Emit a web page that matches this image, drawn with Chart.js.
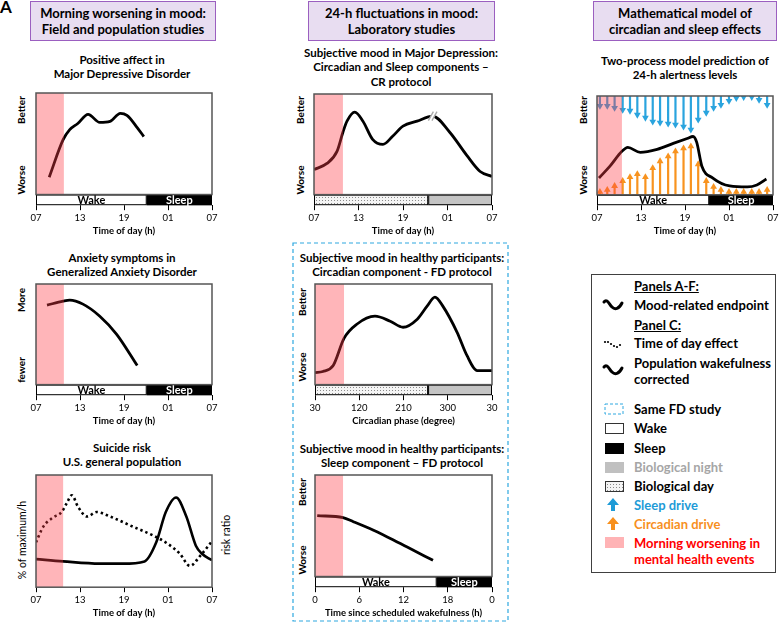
<!DOCTYPE html>
<html>
<head>
<meta charset="utf-8">
<script src="https://cdn.jsdelivr.net/npm/chart.js@4.4.0/dist/chart.umd.min.js"></script>
<style>
  body { margin: 0; width: 780px; height: 627px; position: relative; overflow: hidden; background: #fff; font-family: Lato, sans-serif; color: #000; }
  .hdr { position: absolute; top: 1px; height: 40px; box-sizing: border-box; background: #e8ddf1; border: 1.5px solid #9b5fc0;
         display: flex; align-items: center; justify-content: center; text-align: center; font-weight: bold; font-size: 13px; line-height: 16px; }
  .ttl { position: absolute; transform: translateX(-50%); text-align: center; white-space: nowrap; font-weight: bold; font-size: 11.5px; line-height: 14.3px; }
  .yl { position: absolute; white-space: nowrap; font-weight: bold; font-size: 10px; transform: translate(-50%, -50%) rotate(-90deg); }
  .yl.thin { font-weight: normal; font-size: 10.5px; }
  .lg { position: absolute; left: 634px; white-space: nowrap; font-weight: bold; font-size: 13px; line-height: 16px; }
  .u { text-decoration: underline; }
  canvas { position: absolute; }
  svg { position: absolute; left: 0; top: 0; }
</style>
</head>
<body>
<div style="position:absolute;left:0;top:-4px;font-weight:bold;font-size:17px;">A</div>

<div class="hdr" style="left:30px;width:186px;">Morning worsening in mood:<br>Field and population studies</div>
<div class="hdr" style="left:308px;width:187px;">24-h fluctuations in mood:<br>Laboratory studies</div>
<div class="hdr" style="left:593px;width:184px;">Mathematical model of<br>circadian and sleep effects</div>

<div class="ttl" style="left:122px;top:53px;">Positive affect in<br>Major Depressive Disorder</div>
<div class="ttl" style="left:122px;top:251px;">Anxiety symptoms in<br>Generalized Anxiety Disorder</div>
<div class="ttl" style="left:122px;top:441px;">Suicide risk<br>U.S. general population</div>
<div class="ttl" style="left:401px;top:46px;">Subjective mood in Major Depression:<br>Circadian and Sleep components –<br>CR protocol</div>
<div class="ttl" style="left:402px;top:251px;">Subjective mood in healthy participants:<br>Circadian component - FD protocol</div>
<div class="ttl" style="left:402px;top:442px;">Subjective mood in healthy participants:<br>Sleep component – FD protocol</div>
<div class="ttl" style="left:685px;top:54px;">Two-process model prediction of<br>24-h alertness levels</div>

<div class="yl" style="left:21px;top:110px;">Better</div>
<div class="yl" style="left:21px;top:180px;">Worse</div>
<div class="yl" style="left:21px;top:300px;">More</div>
<div class="yl" style="left:21px;top:370px;">fewer</div>
<div class="yl thin" style="left:22px;top:540px;">% of maximum/h</div>
<div class="yl thin" style="left:226px;top:535px;">risk ratio</div>
<div class="yl" style="left:300px;top:110px;">Better</div>
<div class="yl" style="left:300px;top:180px;">Worse</div>
<div class="yl" style="left:302px;top:302px;">Better</div>
<div class="yl" style="left:302px;top:367px;">Worse</div>
<div class="yl" style="left:302px;top:492px;">Better</div>
<div class="yl" style="left:302px;top:560px;">Worse</div>
<div class="yl" style="left:583px;top:110px;">Better</div>
<div class="yl" style="left:583px;top:180px;">Worse</div>

<!-- legend -->
<div style="position:absolute;left:591px;top:274px;width:185px;height:299px;box-sizing:border-box;border:1px solid #404040;"></div>
<svg width="780" height="627">
  <defs>
    <pattern id="dots" width="3" height="3" patternUnits="userSpaceOnUse">
      <rect width="3" height="3" fill="#f4f4f4"/><rect x="1" y="1" width="1" height="1" fill="#8a8a8a"/>
    </pattern>
  </defs>
  <rect x="293" y="243" width="215" height="378" fill="none" stroke="#2ea8e0" stroke-width="1.2" stroke-dasharray="4 3"/>
  <path d="M604,302 C607,298 609,304 612,307 C615,310 619,309 622,303" fill="none" stroke="#000" stroke-width="3" stroke-linecap="round"/>
  <g fill="#000"><circle cx="605" cy="342" r="1.1"/><circle cx="608" cy="342" r="1.1"/><circle cx="611" cy="344" r="1.1"/>
    <circle cx="614" cy="346" r="1.1"/><circle cx="617" cy="347" r="1.1"/><circle cx="620" cy="345" r="1.1"/></g>
  <path d="M604,367 C607,363 609,369 612,372 C615,375 619,374 622,368" fill="none" stroke="#000" stroke-width="3" stroke-linecap="round"/>
  <rect x="605" y="404" width="18" height="10" fill="none" stroke="#2ea8e0" stroke-width="1" stroke-dasharray="3 2"/>
  <rect x="605.5" y="423.5" width="18" height="10" fill="#fff" stroke="#333" stroke-width="1"/>
  <rect x="605" y="443" width="19" height="11" fill="#000"/>
  <rect x="605" y="462" width="19" height="11" fill="#c0c0c0"/>
  <rect x="605.5" y="481.5" width="18" height="10" fill="url(#dots)" stroke="#333" stroke-width="1"/>
  <path d="M613,498 L607,505 L611,505 L611,511 L615,511 L615,505 L619,505 Z" fill="#1e9bd7"/>
  <path d="M613,517 L607,524 L611,524 L611,530 L615,530 L615,524 L619,524 Z" fill="#f7901e"/>
  <rect x="605" y="537" width="19" height="11" fill="#ffb3b5"/>
</svg>
<div class="lg u" style="top:278px;">Panels A-F:</div>
<div class="lg" style="top:297px;">Mood-related endpoint</div>
<div class="lg u" style="top:317px;">Panel C:</div>
<div class="lg" style="top:335px;">Time of day effect</div>
<div class="lg" style="top:355px;">Population wakefulness<br>corrected</div>
<div class="lg" style="top:401px;">Same FD study</div>
<div class="lg" style="top:420px;">Wake</div>
<div class="lg" style="top:440px;">Sleep</div>
<div class="lg" style="top:459px;color:#a6a6a6;">Biological night</div>
<div class="lg" style="top:478px;">Biological day</div>
<div class="lg" style="top:497px;color:#1e9bd7;">Sleep drive</div>
<div class="lg" style="top:516px;color:#f7901e;">Circadian drive</div>
<div class="lg" style="top:535px;color:#ff0000;">Morning worsening in<br>mental health events</div>

<canvas id="cA" width="204" height="147" style="left:22px;top:90px;"></canvas>
<canvas id="cB" width="204" height="146" style="left:22px;top:281px;"></canvas>
<canvas id="cC" width="204" height="147" style="left:22px;top:472px;"></canvas>
<canvas id="cD" width="206" height="146" style="left:300px;top:91px;"></canvas>
<canvas id="cE" width="205" height="146" style="left:301px;top:281px;"></canvas>
<canvas id="cF" width="205" height="147" style="left:301px;top:472px;"></canvas>
<canvas id="cG" width="204" height="145" style="left:583px;top:92px;"></canvas>

<script>
// tick labels
const clockTicks = ['07', '13', '19', '01', '07'];
const phaseTicks = ['30', '120', '210', '300', '30'];
const wakeTicks = ['0', '6', '12', '18', '0'];

// x values are hours after 07:00 (or circadian degrees in E), y is 0 (worse) .. 100 (better)
// A: positive affect in MDD
const affectHours = [1.8, 3.7, 4.6, 5.7, 7.1, 8.7, 10.1, 11.5, 12.4, 13.8, 14.7];
const affectLevel = [17, 54, 64, 70, 79, 71, 72, 80, 78, 66, 57];
// B: anxiety in GAD
const anxietyHours = [1.5, 3.7, 4.6, 6.4, 8.7, 11.0, 13.8];
const anxietyLevel = [79, 83, 84, 80, 68, 50, 19];
// C: suicide risk
const suicideHours = [0, 3.7, 8.7, 11.8, 14.8, 16.4, 17.7, 19.1, 20.5, 21.8, 22.6, 24];
const suicideCorrected = [25, 23, 21, 21, 23, 40, 67, 80, 63, 37, 30, 24];
const todHours = [0, 1.0, 2.3, 3.5, 4.2, 4.9, 5.7, 6.95, 8.3, 10.1, 13.2, 16.0, 17.9, 19.6, 21.0, 22.4, 24];
const todRisk = [40, 54, 62, 67, 75, 82, 72, 63, 67, 63, 54, 46, 39, 30, 19, 28, 41];
// D: MDD, constant routine
const crHours = [0, 1.75, 3.1, 3.9, 4.45, 5.5, 6.6, 7.9, 9.3, 10.6, 12.0, 13.9, 16.0, 18.3, 20.6, 22.4, 24];
const crMood = [25, 31, 43, 62, 73, 82, 73, 55, 50, 58, 68, 73, 78, 62, 39, 23, 18];
const crBreak = [16.0, 78];
// E: healthy, circadian component
const phaseDeg = [0, 16, 37, 59, 85, 122, 153, 179, 208, 228, 244, 260, 289, 309, 330, 360];
const phaseMood = [12, 13, 19, 46, 60, 68, 63, 57, 65, 78, 87, 78, 52, 29, 14, 14];
// F: healthy, sleep component
const fdHours = [0.3, 3.8, 5.2, 7.5, 9.8, 12.5, 16.0];
const fdMood = [60, 58, 54, 47, 39, 29, 16];
// G: two-process model
const alertHours = [0.27, 1.77, 3.4, 4.2, 5.9, 8.2, 10.4, 12.3, 13.1, 13.6, 14.3, 15.8, 18.1, 20.5, 21.8, 23.1];
const alertLevel = [17, 29, 44, 48, 43, 46, 52, 57, 59, 53, 29, 17, 9, 8, 10, 16];
const arrowHours = [0.4, 1.4, 2.4, 3.5, 4.5, 5.5, 6.6, 7.6, 8.6, 9.7, 10.7, 11.8, 12.8, 13.8, 14.9, 15.9, 16.9, 18.0, 19.0, 20.0, 21.1, 22.1, 23.2];
const sleepDrive = [90, 90, 88, 86, 85, 81, 78, 74, 73, 72, 71, 69, 66, 76, 83, 88, 91, 95, 98, 99, 99, 96, 91];
const circadianDrive = [3, 5, 9, 14, 18, 21, 18, 27, 34, 39, 44, 47, 49, 31, 14, 8, 5, 3, 3, 3, 3, 3, 5];

// morning worsening band end, per panel
const morningEnd = { A: 3.8, B: 3.8, C: 3.7, D: 3.9, E: 59, F: 3.8, G: 3.4 };

// state bars under the plots: [kind, from, to]
const barA = [['Wake', 0, 15.1], ['Sleep', 15.1, 24]];
const barB = [['Wake', 0, 15.1], ['Sleep', 15.1, 24]];
const barD = [['day', 0, 15.4], ['night', 15.4, 24]];
const barE = [['day', 0, 230], ['night', 230, 360]];
const barF = [['Wake', 0, 16.5], ['Sleep', 16.5, 24]];
const barG = [['Wake', 0, 15.3], ['Sleep', 15.3, 24]];

Chart.defaults.font.family = 'Lato';
Chart.defaults.color = '#000';

const dotCanvas = document.createElement('canvas');
dotCanvas.width = 3; dotCanvas.height = 3;
const dctx = dotCanvas.getContext('2d');
dctx.fillStyle = '#f4f4f4'; dctx.fillRect(0, 0, 3, 3);
dctx.fillStyle = '#8a8a8a'; dctx.fillRect(1, 1, 1, 1);

function makeDecor(morning, bar, breakAt) {
  return {
    id: 'decor',
    beforeDatasetsDraw(chart) {
      const { ctx, chartArea: a, scales: { x, y } } = chart;
      if (!bar) return;
      const y0 = y.getPixelForValue(0);
      ctx.save();
      bar.forEach(([kind, from, to]) => {
        const x1 = x.getPixelForValue(from), x2 = x.getPixelForValue(to);
        if (kind === 'Sleep') ctx.fillStyle = '#000';
        else if (kind === 'night') ctx.fillStyle = '#c4c4c4';
        else if (kind === 'day') ctx.fillStyle = ctx.createPattern(dotCanvas, 'repeat');
        else ctx.fillStyle = '#fff';
        ctx.fillRect(x1, y0, x2 - x1, a.bottom - y0);
        ctx.strokeStyle = '#000';
        ctx.lineWidth = 1;
        ctx.strokeRect(x1 + 0.5, y0 + 0.5, x2 - x1 - 1, a.bottom - y0 - 1);
        if (kind === 'Wake' || kind === 'Sleep') {
          ctx.fillStyle = kind === 'Sleep' ? '#fff' : '#000';
          ctx.font = 'bold 11px Lato';
          ctx.textAlign = 'center';
          ctx.textBaseline = 'middle';
          ctx.fillText(kind, (x1 + x2) / 2, (y0 + a.bottom) / 2 + 0.5);
        }
      });
      ctx.restore();
    },
    afterDatasetsDraw(chart) {
      const { ctx, chartArea: a, scales: { x, y } } = chart;
      const y0 = y.getPixelForValue(0);
      ctx.save();
      if (breakAt) {
        const bx = x.getPixelForValue(breakAt[0]), by = y.getPixelForValue(breakAt[1]);
        ctx.strokeStyle = '#fff';
        ctx.lineWidth = 4;
        ctx.beginPath(); ctx.moveTo(bx - 2, by + 4); ctx.lineTo(bx + 2, by - 4); ctx.stroke();
        ctx.strokeStyle = '#a8a8a8';
        ctx.lineWidth = 1.3;
        [-1.8, 1.8].forEach(d => {
          ctx.beginPath(); ctx.moveTo(bx + d - 2.5, by + 4.5); ctx.lineTo(bx + d + 2.5, by - 4.5); ctx.stroke();
        });
      }
      const xm = x.getPixelForValue(morning);
      ctx.fillStyle = 'rgba(255, 60, 70, 0.38)';
      ctx.fillRect(a.left, a.top, xm - a.left, y0 - a.top);
      ctx.strokeStyle = '#555';
      ctx.lineWidth = 1.5;
      ctx.strokeRect(a.left, a.top, a.right - a.left, y0 - a.top);
      ctx.restore();
    }
  };
}

function curve(xs, ys, extra) {
  return Object.assign({
    data: xs.map((v, i) => ({ x: v, y: ys[i] })),
    borderColor: '#000',
    borderWidth: 2.8,
    pointRadius: 0,
    cubicInterpolationMode: 'monotone',
    fill: false
  }, extra || {});
}

function panel(id, cfg) {
  const step = cfg.xMax / 4;
  return new Chart(document.getElementById(id), {
    type: 'line',
    data: { datasets: cfg.datasets },
    options: {
      responsive: false,
      animation: false,
      events: [],
      layout: { padding: { left: 14, right: 14, top: 3, bottom: 0 } },
      plugins: { legend: { display: false }, tooltip: { enabled: false } },
      scales: {
        x: {
          type: 'linear', min: 0, max: cfg.xMax,
          border: { display: false },
          grid: { drawOnChartArea: false, drawTicks: true, tickLength: 5, color: '#000' },
          ticks: {
            stepSize: step, autoSkip: false, maxRotation: 0, padding: 2,
            font: { size: 9.5 },
            callback: v => cfg.tickLabels[Math.round(v / step)]
          },
          title: { display: true, text: cfg.xTitle, padding: 0, font: { size: 9.5, weight: 'bold' } }
        },
        y: { display: false, min: cfg.bar ? -10.5 : 0, max: 100 }
      }
    },
    plugins: [makeDecor(cfg.morning, cfg.bar, cfg.breakAt)]
  });
}

panel('cA', { xMax: 24, tickLabels: clockTicks, xTitle: 'Time of day (h)', morning: morningEnd.A, bar: barA,
  datasets: [curve(affectHours, affectLevel)] });

panel('cB', { xMax: 24, tickLabels: clockTicks, xTitle: 'Time of day (h)', morning: morningEnd.B, bar: barB,
  datasets: [curve(anxietyHours, anxietyLevel)] });

panel('cC', { xMax: 24, tickLabels: clockTicks, xTitle: 'Time of day (h)', morning: morningEnd.C, bar: null,
  datasets: [
    curve(suicideHours, suicideCorrected, { borderWidth: 2.6 }),
    curve(todHours, todRisk, { borderWidth: 2.6, borderDash: [2.4, 3], borderCapStyle: 'butt' })
  ] });

panel('cD', { xMax: 24, tickLabels: clockTicks, xTitle: 'Time of day (h)', morning: morningEnd.D, bar: barD, breakAt: crBreak,
  datasets: [curve(crHours, crMood)] });

panel('cE', { xMax: 360, tickLabels: phaseTicks, xTitle: 'Circadian phase (degree)', morning: morningEnd.E, bar: barE,
  datasets: [curve(phaseDeg, phaseMood)] });

panel('cF', { xMax: 24, tickLabels: wakeTicks, xTitle: 'Time since scheduled wakefulness (h)', morning: morningEnd.F, bar: barF,
  datasets: [curve(fdHours, fdMood)] });

// arrows for the two-process model
const blueShafts = [], orangeShafts = [];
arrowHours.forEach((h, i) => {
  blueShafts.push({ x: h, y: 100 }, { x: h, y: sleepDrive[i] }, { x: h, y: null });
  orangeShafts.push({ x: h, y: 0 }, { x: h, y: circadianDrive[i] }, { x: h, y: null });
});
const arrowHead = (vals, color, rot) => ({
  data: arrowHours.map((h, i) => ({ x: h, y: vals[i] })),
  showLine: false,
  pointStyle: 'triangle',
  pointRadius: 3.9,
  pointRotation: rot,
  pointBackgroundColor: color,
  pointBorderWidth: 0
});
const shaft = (data, color) => ({
  data, borderColor: color, borderWidth: 2.2, borderCapStyle: 'butt', pointRadius: 0, spanGaps: false, tension: 0
});

panel('cG', { xMax: 24, tickLabels: clockTicks, xTitle: 'Time of day (h)', morning: morningEnd.G, bar: barG,
  datasets: [
    curve(alertHours, alertLevel),
    arrowHead(sleepDrive, '#2aa4de', 180),
    arrowHead(circadianDrive, '#f8931f', 0),
    shaft(blueShafts, '#2aa4de'),
    shaft(orangeShafts, '#f8931f')
  ] });
</script>
</body>
</html>
